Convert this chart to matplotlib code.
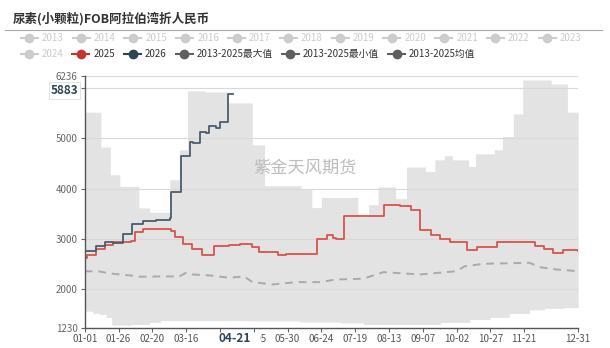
import numpy as np
import matplotlib
matplotlib.use('Agg')
import matplotlib.pyplot as plt
from matplotlib.lines import Line2D
from matplotlib.patches import Rectangle
import matplotlib.transforms as mtransforms

plt.rcParams['font.family'] = ['Noto Sans CJK SC', 'DejaVu Sans']

title = '尿素(小颗粒)FOB阿拉伯湾折人民币'

# x axis: day of a (leap) calendar year, labels every 25 days
tick_days = [0, 25, 50, 75, 100, 125, 150, 175, 200, 225, 250, 275, 300, 325, 365]
tick_labels = ['01-01', '01-26', '02-20', '03-16', '', '05-05', '05-30', '06-24',
               '07-19', '08-13', '09-07', '10-02', '10-27', '11-21', '12-31']
y_ticks = [1230, 2000, 3000, 4000, 5000, 6000, 6236]
y_labels = ['1230', '2000', '3000', '4000', '5000', '', '6236']

# 2013-2025 max (upper edge of band), step values
max_days = [0, 12, 19, 26, 40, 48, 63, 70, 76, 89, 106, 124, 133, 160, 168, 175, 202, 210,
            217, 230, 238, 252, 259, 266, 272, 284, 289, 303, 309, 317, 324, 345, 357, 365]
max_vals = [5515, 4822, 4273, 4042, 3614, 3527, 4174, 4768, 5937, 5917, 5700, 4867, 4055,
            3990, 3620, 3824, 3448, 3679, 4030, 3798, 4426, 4339, 4570, 4650, 4570, 4438,
            4689, 4768, 5032, 5481, 6154, 6075, 5515, 5515]

# 2013-2025 min (lower edge of band)
min_days = [0, 6, 11, 16, 20, 34, 48, 56, 122, 159, 189, 206, 233, 263, 285, 300, 314,
            329, 340, 354, 365]
min_vals = [1566, 1520, 1500, 1440, 1285, 1300, 1340, 1375, 1370, 1350, 1330, 1300, 1300,
            1340, 1400, 1440, 1520, 1590, 1620, 1634, 1634]

# 2013-2025 mean
mean_days = [0, 11, 19, 26, 34, 41, 56, 70, 75, 80, 93, 107, 118, 124, 139, 157, 174, 186,
             206, 221, 248, 275, 281, 295, 329, 337, 349, 365]
mean_vals = [2358, 2352, 2313, 2293, 2273, 2248, 2254, 2254, 2327, 2293, 2273, 2228, 2254,
             2141, 2095, 2141, 2141, 2194, 2208, 2339, 2293, 2358, 2455, 2505, 2525, 2436,
             2392, 2358]

# 2025
y2025_days = [0, 2, 8, 15, 21, 34, 37, 43, 64, 67, 73, 79, 87, 96, 107, 115, 124, 129, 143,
              149, 172, 179, 184, 186, 192, 221, 233, 241, 248, 256, 263, 270, 283, 290, 305,
              318, 324, 333, 340, 346, 354, 365]
y2025_vals = [2624, 2689, 2802, 2887, 2933, 2952, 3131, 3198, 3150, 3040, 2907, 2802, 2689,
              2861, 2881, 2907, 2842, 2735, 2689, 2709, 3000, 3085, 3020, 3000, 3448, 3679,
              3645, 3580, 3170, 3085, 3000, 2941, 2788, 2842, 2933, 2947, 2933, 2853, 2802,
              2723, 2774, 2754]

# 2026
y2026_days = [0, 8, 15, 21, 28, 35, 43, 53, 63, 64, 71, 78, 80, 85, 90, 92, 97, 100, 106, 110]
y2026_vals = [2754, 2853, 2933, 2921, 3101, 3297, 3349, 3382, 3416, 3923, 4636, 4933, 4907,
              5131, 5105, 5244, 5204, 5329, 5883, 5883]

current_day = 111
current_label = '04-21'
last_value = 5883

grey_years = ['2013', '2014', '2015', '2016', '2017', '2018', '2019', '2020', '2021',
              '2022', '2023', '2024']
stat_names = ['2013-2025最大值', '2013-2025最小值', '2013-2025均值']

c2025 = '#c23531'
c2026 = '#2f4554'
c_stat = '#5f5f5f'
c_grey = '#cccccc'

W, H = 610, 348
fig = plt.figure(figsize=(W / 100, H / 100), dpi=100)
ax = fig.add_axes([84.7 / W, 1 - 328 / H, (578.2 - 84.7) / W, (328 - 75.9) / H])


def hold(days, vals, grid):
    idx = np.searchsorted(days, grid, side='right') - 1
    return np.asarray(vals)[idx]


grid = np.arange(0, 366)
ax.fill_between(grid, hold(min_days, min_vals, grid), hold(max_days, max_vals, grid),
                step='post', color='#e3e3e3', lw=0, zorder=1)

for v in y_ticks[1:]:
    ax.axhline(v, color='#d9d9d9', lw=0.8, zorder=1.2)

ax.plot(mean_days, mean_vals, color='#aaaaaa', lw=1.4, ls=(0, (4, 3)), zorder=3)
ax.plot(y2025_days, y2025_vals, color='#d9534f', lw=1.3, drawstyle='steps-post', zorder=4)
ax.plot(y2026_days, y2026_vals, color='#4a5d6e', lw=1.3, drawstyle='steps-post', zorder=5)

ax.set_xlim(0, 365)
ax.set_ylim(1230, 6236)
ax.set_xticks(tick_days)
ax.set_xticklabels(tick_labels)
ax.set_yticks(y_ticks)
ax.set_yticklabels(y_labels)
ax.tick_params(axis='both', labelsize=7, colors='#666666', length=3, width=0.8, pad=2)
ax.tick_params(axis='x', labelcolor='#555555', pad=1.5)
for s in ['top', 'right']:
    ax.spines[s].set_visible(False)
for s in ['left', 'bottom']:
    ax.spines[s].set_color('#555555')
    ax.spines[s].set_linewidth(1.0)
ax.spines['left'].set_zorder(6)
ax.spines['bottom'].set_zorder(6)

# highlighted x label (current date), white box hides the neighbouring labels
tr = mtransforms.blended_transform_factory(ax.transData, ax.transAxes)
ax.add_patch(Rectangle((current_day - 20.5, -0.079), 39.5, 0.058, transform=tr,
                       facecolor='white', edgecolor='none', clip_on=False, zorder=10))
ax.text(current_day, -0.042, current_label, transform=tr, ha='center', va='center',
        fontsize=8.5, fontweight='bold', color=c2026, zorder=11, clip_on=False)

# last value label on y axis
tr_y = mtransforms.blended_transform_factory(ax.transAxes, ax.transData)
ax.text(-0.013, last_value + 60, str(last_value), transform=tr_y, ha='right', va='center',
        fontsize=8.5, fontweight='bold', color=c2026, zorder=11, clip_on=False,
        bbox=dict(boxstyle='square,pad=0.15', facecolor='white', edgecolor='#dddddd', lw=0.6))

# watermark
fig.text(253 / W, 1 - 168 / H, '紫金天风期货', fontsize=12.4, color='#bdbdbd',
         ha='left', va='center')

# title and separator
fig.text(13 / W, 1 - 18.3 / H, title, fontsize=9, fontweight='bold', color='#333333',
         ha='left', va='center')
fig.add_artist(Line2D([5 / W, 602 / W], [1 - 30 / H, 1 - 30 / H], color='#aaaaaa', lw=0.8,
                      transform=fig.transFigure))

# legend, laid out by text width
renderer = fig.canvas.get_renderer()
items = [(y, c_grey, c_grey) for y in grey_years] + \
        [('2025', c2025, '#333333'), ('2026', c2026, '#333333')] + \
        [(n, c_stat, '#333333') for n in stat_names]
rows_y = [38.3, 54.3]
x, row = 20.7, 0
for i, (name, mc, tc) in enumerate(items):
    if i == 11:
        x, row = 20.7, 1
    py = 1 - rows_y[row] / H
    fig.add_artist(Line2D([x / W, (x + 17) / W], [py, py], color=mc, lw=1.5,
                          transform=fig.transFigure))
    fig.add_artist(Line2D([(x + 8.5) / W], [py], color=mc, marker='o', markersize=6,
                          lw=0, transform=fig.transFigure))
    t = fig.text((x + 21) / W, py, name, fontsize=7, color=tc, ha='left', va='center')
    bb = t.get_window_extent(renderer)
    x = bb.x1 + 9

fig.savefig('out.png', dpi=100)
